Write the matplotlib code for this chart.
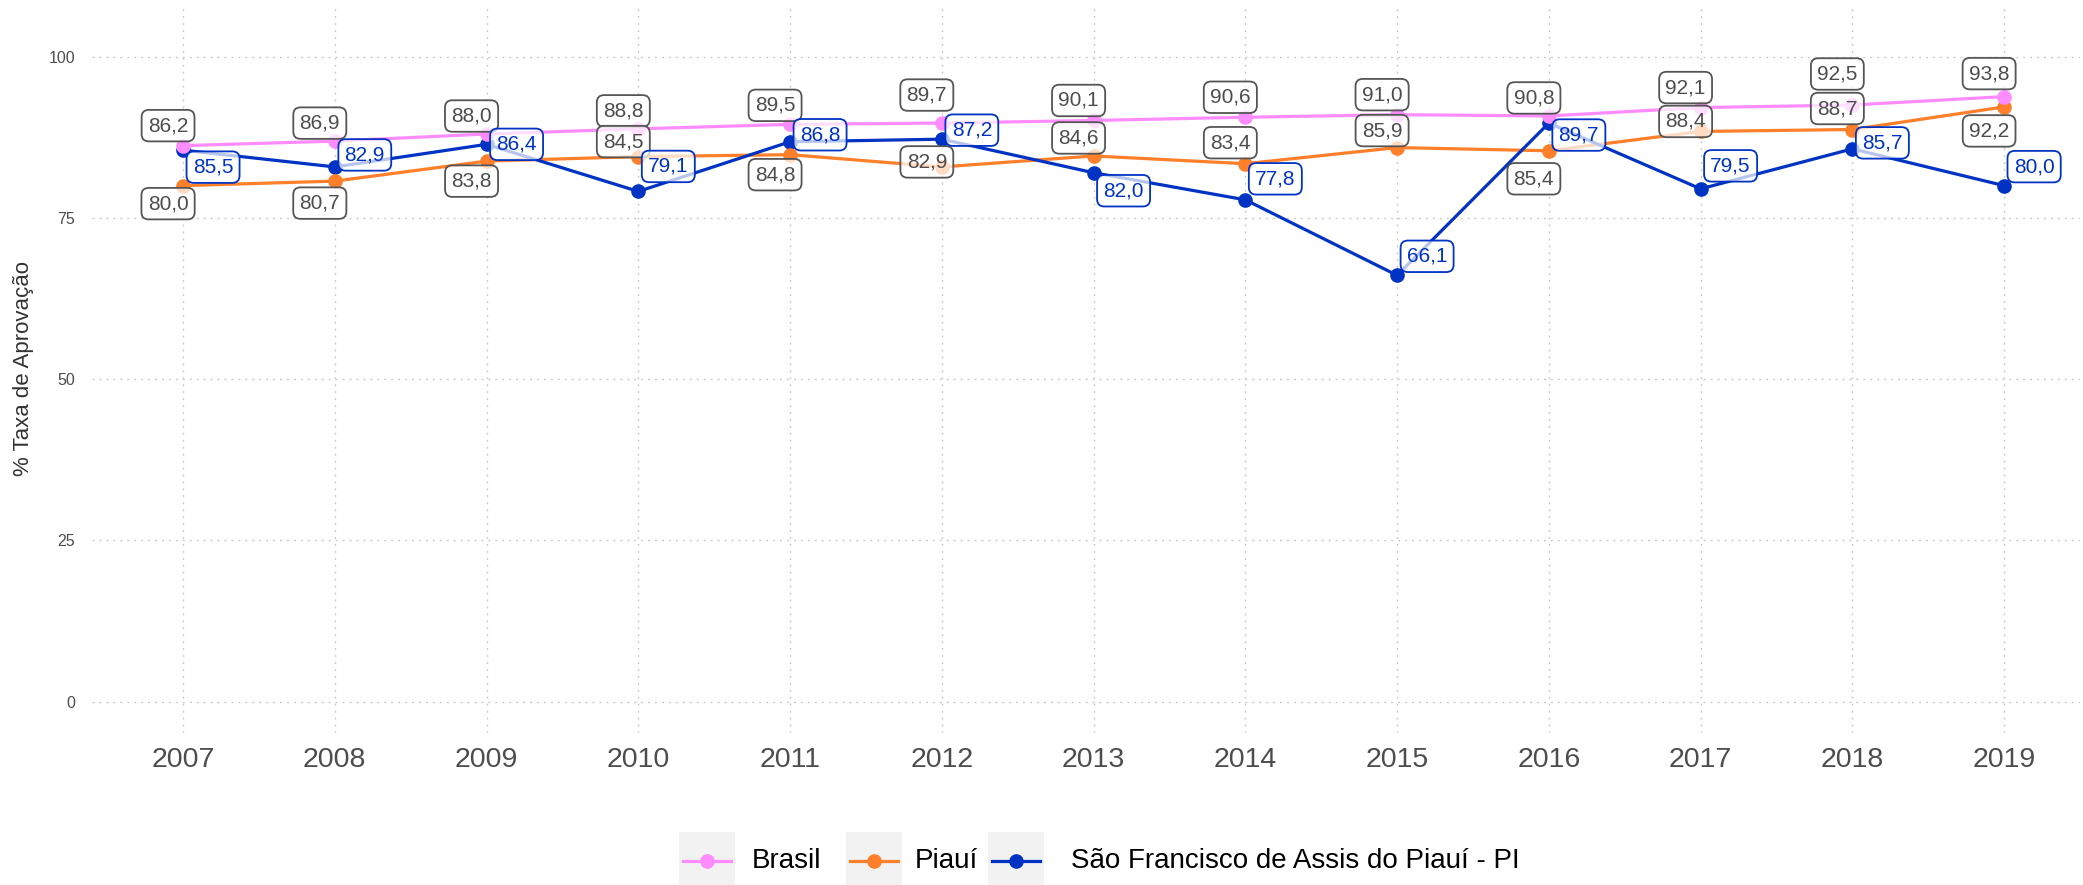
import matplotlib
matplotlib.use("Agg")
import matplotlib.pyplot as plt
from matplotlib.patches import Rectangle
from matplotlib.lines import Line2D

plt.rcParams["font.family"] = ["Liberation Sans", "DejaVu Sans"]

# ---- data -------------------------------------------------------------
years = [2007, 2008, 2009, 2010, 2011, 2012, 2013, 2014, 2015, 2016, 2017, 2018, 2019]
brasil = [86.2, 86.9, 88.0, 88.8, 89.5, 89.7, 90.1, 90.6, 91.0, 90.8, 92.1, 92.5, 93.8]
piaui = [80.0, 80.7, 83.8, 84.5, 84.8, 82.9, 84.6, 83.4, 85.9, 85.4, 88.4, 88.7, 92.2]
municipio = [85.5, 82.9, 86.4, 79.1, 86.8, 87.2, 82.0, 77.8, 66.1, 89.7, 79.5, 85.7, 80.0]
series_names = ["Brasil", "Piauí", "São Francisco de Assis do Piauí - PI"]
y_ticks = [0, 25, 50, 75, 100]
y_label = "% Taxa de Aprovação"

# ---- styling ----------------------------------------------------------
colors = ["#ff8cff", "#ff7f2a", "#0033c4"]
label_text_colors = ["#4d4d4d", "#4d4d4d", "#0033c4"]
label_edge_colors = ["#555555", "#555555", "#0033c4"]

# label nudges in pixels (dx, dy) so the boxes do not collide
brasil_dy = [20, 18, 18, 18, 19, 28, 20, 20, 20, 18, 20, 31, 23]
piaui_dy = [-18, -22, -20, 15, -20, 5, 18, 21, 17, -28, 10, 21, -24]
mun_dy = [-17, 12, 0, 25, 7, 9, -18, 21, 19, -12, 23, 6, 19]
label_dx = [-15, -15, 30]

W, H = 2083, 885
fig = plt.figure(figsize=(W / 100, H / 100), dpi=100)
fig.patch.set_facecolor("white")

left, right, top, bottom = 92, 2080, 5, 733
ax = fig.add_axes([left / W, 1 - bottom / H, (right - left) / W, (bottom - top) / H])
ax.set_facecolor("white")

all_series = [brasil, piaui, municipio]
all_dy = [brasil_dy, piaui_dy, mun_dy]

for vals, c in zip(all_series, colors):
    ax.plot(years, vals, color=c, linewidth=2.3, zorder=2, solid_capstyle="butt")
for idx in [2, 1, 0]:
    ax.plot(years, all_series[idx], linestyle="none", marker="o", markersize=9.5,
            color=colors[idx], zorder=3)

def fmt(v):
    return f"{v:.1f}".replace(".", ",")

for idx, (vals, dys) in enumerate(zip(all_series, all_dy)):
    for x, v, dy in zip(years, vals, dys):
        ax.annotate(fmt(v), xy=(x, v), xytext=(label_dx[idx], dy),
                    textcoords="offset pixels", ha="center", va="center",
                    fontsize=15, color=label_text_colors[idx], zorder=5,
                    bbox=dict(boxstyle="round,pad=0.3,rounding_size=0.35",
                              facecolor=(1, 1, 1, 0.72),
                              edgecolor=label_edge_colors[idx], linewidth=1.3))

ax.set_xlim(2006.4, 2019.5)
ax.set_ylim(-4.85, 108.0)
ax.set_xticks(years)
ax.set_xticklabels([str(y) for y in years], fontsize=20.5, color="#4d4d4d")
ax.set_yticks(y_ticks)
ax.set_yticklabels([str(t) for t in y_ticks], fontsize=11.5, color="#4d4d4d")
ax.tick_params(axis="both", length=0)
ax.tick_params(axis="x", pad=10)
ax.tick_params(axis="y", pad=12)
ax.grid(True, color="#cccccc", linestyle=(0, (1.5, 3.5)), linewidth=1.0, zorder=0)
ax.set_axisbelow(True)
for s in ax.spines.values():
    s.set_visible(False)

fig.text(24 / W, 1 - 369 / H, y_label, rotation=90, ha="center", va="center",
         fontsize=16, color="#333333")

# ---- legend drawn along the bottom ------------------------------------
lax = fig.add_axes([0, 0, 1, 1])
lax.set_xlim(0, W)
lax.set_ylim(H, 0)
lax.axis("off")
key_x = [679, 846, 988]
text_x = [752, 915, 1071]
key_w, key_top, key_bot = 56, 832, 886
cy = 861
for name, c, kx, tx in zip(series_names, colors, key_x, text_x):
    lax.add_patch(Rectangle((kx, key_top), key_w, key_bot - key_top,
                            facecolor="#f2f2f2", edgecolor="none"))
    lax.add_line(Line2D([kx + 4, kx + key_w - 4], [cy, cy], color=c, linewidth=2.3))
    lax.plot([kx + key_w / 2], [cy], marker="o", markersize=9.5, color=c)
    lax.text(tx, cy, name, fontsize=20, color="black", ha="left", va="center")

fig.savefig("out.png", dpi=100)
